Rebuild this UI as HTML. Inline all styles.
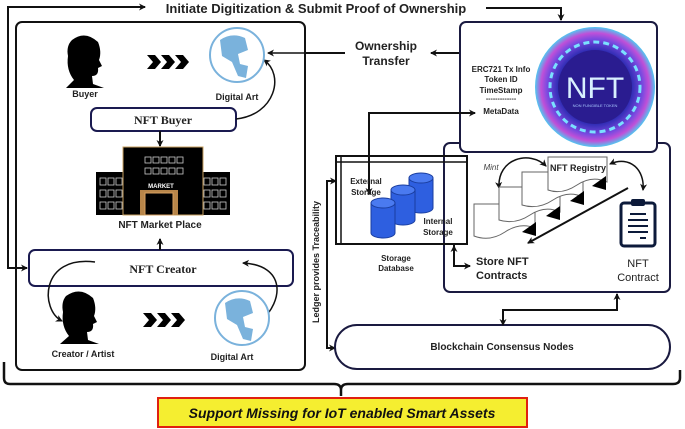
<!DOCTYPE html>
<html><head><meta charset="utf-8"><style>
html,body{margin:0;padding:0;background:#fff;}
svg{display:block;font-family:"Liberation Sans",sans-serif;}
.b{font-weight:bold;}
</style></head><body>
<svg width="685" height="429" viewBox="0 0 685 429" xmlns="http://www.w3.org/2000/svg">
<defs>
<marker id="a" markerWidth="8" markerHeight="8" refX="6" refY="4" orient="auto-start-reverse" markerUnits="userSpaceOnUse"><path d="M0,0.5 L7,4 L0,7.5 L2,4z" fill="#111"/></marker>
<radialGradient id="g" cx="50%" cy="50%" r="50%">
<stop offset="0" stop-color="#3a1a8a"/><stop offset="0.6" stop-color="#2a2ab0"/><stop offset="0.8" stop-color="#7a4ae0"/><stop offset="0.9" stop-color="#c050d8"/><stop offset="1" stop-color="#50c8f0"/>
</radialGradient>
</defs>
<g stroke="#111" fill="none" stroke-width="2">
<path d="M144,7 H8 V268 H27" marker-end="url(#a)"/>
<path d="M143,7 H145" marker-end="url(#a)"/>
<path d="M486,8 H561 V20" marker-end="url(#a)"/>
<rect x="16" y="22" width="289" height="348" rx="6"/>
<path d="M305,53 H345"/>
<path d="M460,53 H431" marker-end="url(#a)"/>
<path d="M305,53 H268" marker-end="url(#a)" stroke-width="1.5"/>
<rect x="460" y="22" width="197" height="130" rx="6" stroke="#1a1a40"/>
<path d="M460,143 H450 a6,6 0 0 0 -6,6 V286 a6,6 0 0 0 6,6 H664 a6,6 0 0 0 6,-6 V149 a6,6 0 0 0 -6,-6 H657" stroke="#1a1a40"/>
<rect x="336" y="156" width="131" height="88"/>
<path d="M336,162 H467 M341,156 V244" stroke-width="1.5"/>
<path d="M369,193 V113 H475" marker-end="url(#a)"/>
<path d="M369,113 V194" marker-end="url(#a)"/>
<path d="M454,244 V266 H470" marker-end="url(#a)"/>
<path d="M454,266 V246" marker-end="url(#a)"/>
<path d="M336,181 H327 V348 H335" marker-end="url(#a)"/>
<path d="M327,181 H336" marker-end="url(#a)"/>
<rect x="335" y="325" width="335" height="44" rx="22" stroke="#1a1a40"/>
<path d="M503,324 V310 H617 V294" marker-end="url(#a)"/>
<path d="M503,310 V325" marker-end="url(#a)"/>
<path d="M4,362 V378 Q4,384 10,384 H334 Q341,384 341,390 V396 M341,390 Q341,384 348,384 H673 Q680,384 680,378 V370" stroke-width="2.5"/>
<rect x="91" y="108" width="145" height="23" rx="6" stroke="#1a1a50"/>
<rect x="29" y="250" width="264" height="36" rx="6" stroke="#1a1a50"/>
<path d="M160,131 V146" marker-end="url(#a)"/>
<path d="M160,250 V239" marker-end="url(#a)"/>
<path d="M236,119 C275,115 285,75 264,60" marker-end="url(#a)" stroke-width="1.5"/>
<path d="M95,262 C40,255 40,310 62,321" marker-end="url(#a)" stroke-width="1.5"/>
<path d="M260,322 C285,300 285,265 243,263" marker-end="url(#a)" stroke-width="1.5"/>
<path d="M499,188 C497,158 530,150 546,166" marker-start="url(#a)" marker-end="url(#a)" stroke-width="1.5"/>
<path d="M610,164 C630,155 645,170 643,190" marker-start="url(#a)" marker-end="url(#a)" stroke-width="1.5"/>
<path d="M628,188 L528,243" marker-end="url(#a)"/>
</g>
<g stroke="#666" stroke-width="1" fill="#fff">
<path d="M474,204 H535 V228 Q520,222 505,232 Q490,242 474,236 Z"/>
<path d="M499,187 H560 V212 Q545,205 530,215 Q515,225 499,220 Z"/>
<path d="M522,172 H583 V197 Q568,190 553,200 Q538,210 522,205 Z"/>
<path d="M548,157 H607 V182 Q592,175 577,185 Q562,195 548,190 Z"/>
</g>
<g fill="#000">
<path d="M536,222 L522,232 L536,236Z"/>
<path d="M560,206 L546,216 L560,220Z"/>
<path d="M584,191 L570,201 L584,205Z"/>
<path d="M606,176 L592,186 L606,190Z"/>
</g>
<rect x="621" y="203" width="34" height="43" rx="3" fill="#fff" stroke="#0c1a3a" stroke-width="3"/>
<rect x="631" y="199" width="14" height="7" rx="2" fill="#0c1a3a"/>
<g stroke="#0c1a3a" stroke-width="2"><path d="M630,214 H646 M628,220 H648 M628,226 H648 M628,232 H648 M640,238 H646"/></g>
<g fill="#2e5fe0" stroke="#1a3ea0" stroke-width="1">
<path d="M409,178 v30 a12,5 0 0 0 24,0 v-30z"/><ellipse cx="421" cy="178" rx="12" ry="5" fill="#4a7af0"/>
<path d="M391,190 v30 a12,5 0 0 0 24,0 v-30z"/><ellipse cx="403" cy="190" rx="12" ry="5" fill="#4a7af0"/>
<path d="M371,203 v30 a12,5 0 0 0 24,0 v-30z"/><ellipse cx="383" cy="203" rx="12" ry="5" fill="#4a7af0"/>
</g>
<circle cx="595" cy="87" r="60" fill="url(#g)"/>
<circle cx="595" cy="87" r="45" fill="none" stroke="#7ae0ff" stroke-width="3" stroke-dasharray="6 4"/>
<circle cx="595" cy="87" r="37" fill="#2a1c90"/>
<text x="595" y="98" font-size="30" fill="#d8f0ff" text-anchor="middle">NFT</text>
<text x="595" y="107" font-size="4" fill="#a8c8ff" text-anchor="middle">NON FUNGIBLE TOKEN</text>
<g fill="#000">
<path d="M72,40 Q85,30 98,42 Q102,52 99,60 L102,66 L98,68 Q99,76 92,76 L93,84 L104,88 H66 L74,80 Q66,70 68,56 Q66,46 72,40Z"/>
<path d="M66,296 Q80,286 93,298 Q97,308 94,316 L97,322 L93,324 Q94,332 87,332 L88,340 L99,344 H60 L69,336 Q61,326 63,312 Q61,302 66,296Z"/>
<path d="M147,55 h8 l6,7 -6,7 h-8 l6,-7z M161,55 h8 l6,7 -6,7 h-8 l6,-7z M175,55 h8 l6,7 -6,7 h-8 l6,-7z"/>
<path d="M143,313 h8 l6,7 -6,7 h-8 l6,-7z M157,313 h8 l6,7 -6,7 h-8 l6,-7z M171,313 h8 l6,7 -6,7 h-8 l6,-7z"/>
</g>
<g>
<circle cx="237" cy="55" r="27" fill="#fff" stroke="#7ab2dc" stroke-width="2"/>
<path d="M220,40 Q232,32 245,38 L248,50 L238,54 L240,64 L248,66 L246,78 L238,76 L232,62 L222,56Z" fill="#7ab2dc"/>
<circle cx="242" cy="318" r="27" fill="#fff" stroke="#7ab2dc" stroke-width="2"/>
<path d="M225,303 Q237,295 250,301 L253,313 L243,317 L245,327 L253,329 L251,341 L243,339 L237,325 L227,319Z" fill="#7ab2dc"/>
</g>
<g>
<rect x="96" y="172" width="134" height="43" fill="#000"/>
<rect x="123" y="147" width="80" height="68" fill="#000" stroke="#c8a060" stroke-width="1"/>
<rect x="140" y="190" width="38" height="25" fill="#b8864a"/>
<rect x="145" y="193" width="28" height="22" fill="#000" stroke="#d8a060"/>
<text x="161" y="188" font-size="6" fill="#fff" text-anchor="middle" class="b">MARKET</text>
<g fill="none" stroke="#ccc" stroke-width="0.8">
<rect x="100" y="178" width="6" height="7"/><rect x="108" y="178" width="6" height="7"/><rect x="116" y="178" width="6" height="7"/>
<rect x="100" y="190" width="6" height="7"/><rect x="108" y="190" width="6" height="7"/><rect x="116" y="190" width="6" height="7"/>
<rect x="100" y="202" width="6" height="7"/><rect x="108" y="202" width="6" height="7"/><rect x="116" y="202" width="6" height="7"/>
<rect x="204" y="178" width="6" height="7"/><rect x="212" y="178" width="6" height="7"/><rect x="220" y="178" width="6" height="7"/>
<rect x="204" y="190" width="6" height="7"/><rect x="212" y="190" width="6" height="7"/><rect x="220" y="190" width="6" height="7"/>
<rect x="204" y="202" width="6" height="7"/><rect x="212" y="202" width="6" height="7"/><rect x="220" y="202" width="6" height="7"/>
<rect x="145" y="157" width="6" height="6"/><rect x="153" y="157" width="6" height="6"/><rect x="161" y="157" width="6" height="6"/><rect x="169" y="157" width="6" height="6"/><rect x="177" y="157" width="6" height="6"/>
<rect x="145" y="168" width="6" height="6"/><rect x="153" y="168" width="6" height="6"/><rect x="161" y="168" width="6" height="6"/><rect x="169" y="168" width="6" height="6"/><rect x="177" y="168" width="6" height="6"/>
</g>
</g>
<rect x="158" y="398" width="369" height="29" fill="#f5ee30" stroke="#e02010" stroke-width="2"/>
<text x="342" y="418" font-size="14" font-weight="bold" font-style="italic" text-anchor="middle" fill="#111">Support Missing for IoT enabled Smart Assets</text>
<g class="b" fill="#222" text-anchor="middle">
<text x="316" y="13" font-size="13">Initiate Digitization &amp; Submit Proof of Ownership</text>
<text x="386" y="50" font-size="12">Ownership</text>
<text x="386" y="65" font-size="12">Transfer</text>
<text x="85" y="97" font-size="9">Buyer</text>
<text x="237" y="100" font-size="9">Digital Art</text>
<text x="83" y="357" font-size="9">Creator / Artist</text>
<text x="232" y="360" font-size="9">Digital Art</text>
<text x="160" y="228" font-size="10">NFT Market Place</text>
<text x="501" y="72" font-size="8">ERC721 Tx Info</text>
<text x="501" y="82" font-size="8">Token ID</text>
<text x="501" y="93" font-size="8">TimeStamp</text>
<text x="501" y="101" font-size="7">-------------</text>
<text x="501" y="114" font-size="8">MetaData</text>
<text x="366" y="184" font-size="8">External</text>
<text x="366" y="195" font-size="8">Storage</text>
<text x="438" y="224" font-size="8">Internal</text>
<text x="438" y="235" font-size="8">Storage</text>
<text x="396" y="261" font-size="8">Storage</text>
<text x="396" y="271" font-size="8">Database</text>
<text x="578" y="171" font-size="9">NFT Registry</text>
<text x="638" y="267" font-size="11" font-weight="normal">NFT</text>
<text x="638" y="281" font-size="11" font-weight="normal">Contract</text>
<text x="502" y="350" font-size="10">Blockchain Consensus Nodes</text>
</g>
<g class="b" fill="#222" text-anchor="start">
<text x="476" y="265" font-size="11">Store NFT</text>
<text x="476" y="279" font-size="11">Contracts</text>
</g>
<text x="491" y="170" font-size="8" font-style="italic" fill="#444" text-anchor="middle">Mint</text>
<text x="163" y="124" font-size="12" font-weight="bold" font-family="Liberation Serif,serif" text-anchor="middle" fill="#222">NFT Buyer</text>
<text x="163" y="273" font-size="12" font-weight="bold" font-family="Liberation Serif,serif" text-anchor="middle" fill="#222">NFT Creator</text>
<text transform="translate(319,262) rotate(-90)" font-size="9" font-weight="bold" text-anchor="middle" fill="#222">Ledger provides Traceability</text>
</svg>
</body></html>
